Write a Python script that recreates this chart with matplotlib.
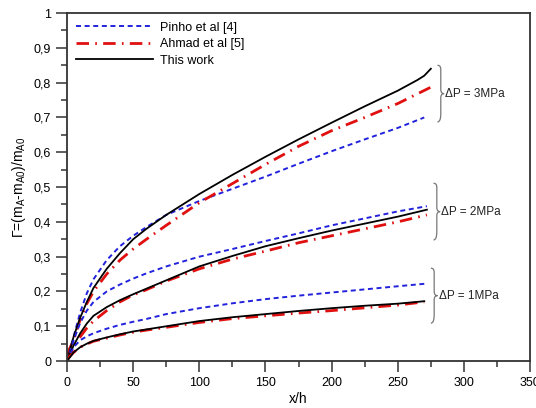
import matplotlib
matplotlib.use("Agg")
import matplotlib.pyplot as plt
from matplotlib.path import Path
from matplotlib.patches import PathPatch
from matplotlib.ticker import MultipleLocator, FuncFormatter

plt.rcParams['font.family'] = ['Liberation Sans', 'DejaVu Sans']
plt.rcParams['mathtext.fontset'] = 'custom'
plt.rcParams['mathtext.rm'] = 'Liberation Sans'
plt.rcParams['mathtext.it'] = 'Liberation Sans'
plt.rcParams['lines.scale_dashes'] = False

# ---- data ----
x_3 = [0, 2.5, 5, 10, 15, 20, 30, 40, 50, 60, 75, 100, 125, 150, 175, 200, 225, 250, 265, 270, 275]
work_3 = [0, 0.035, 0.07, 0.125, 0.17, 0.21, 0.265, 0.31, 0.35, 0.38, 0.42, 0.48, 0.535, 0.587,
          0.637, 0.685, 0.732, 0.777, 0.808, 0.82, 0.84]
x_p3 = [0, 5, 10, 15, 20, 30, 40, 50, 60, 75, 100, 125, 150, 175, 200, 225, 250, 270]
pinho_3 = [0, 0.07, 0.14, 0.195, 0.235, 0.29, 0.33, 0.36, 0.385, 0.42, 0.46, 0.495, 0.53,
           0.567, 0.603, 0.637, 0.67, 0.70]
x_a3 = [0, 5, 10, 15, 20, 30, 40, 50, 60, 75, 100, 125, 150, 175, 200, 225, 250, 275]
ahmad_3 = [0.02, 0.06, 0.12, 0.165, 0.20, 0.25, 0.29, 0.322, 0.35, 0.39, 0.455, 0.51, 0.565,
           0.617, 0.662, 0.70, 0.74, 0.787]

x_2 = [0, 5, 10, 15, 20, 30, 40, 50, 60, 75, 100, 125, 150, 175, 200, 225, 250, 272]
work_2 = [0, 0.045, 0.08, 0.108, 0.13, 0.155, 0.175, 0.192, 0.208, 0.232, 0.272, 0.302, 0.33,
          0.353, 0.375, 0.395, 0.415, 0.435]
pinho_2 = [0, 0.06, 0.11, 0.145, 0.17, 0.20, 0.22, 0.237, 0.252, 0.272, 0.30, 0.322, 0.345,
           0.367, 0.39, 0.41, 0.43, 0.445]
ahmad_2 = [0, 0.04, 0.07, 0.095, 0.115, 0.145, 0.17, 0.19, 0.205, 0.23, 0.265, 0.293, 0.316,
           0.34, 0.36, 0.38, 0.40, 0.42]

x_1 = [0, 5, 10, 15, 20, 30, 40, 50, 60, 75, 100, 125, 150, 175, 200, 225, 250, 270]
work_1 = [0, 0.025, 0.04, 0.05, 0.058, 0.068, 0.077, 0.085, 0.091, 0.10, 0.115, 0.126, 0.135,
          0.144, 0.152, 0.159, 0.165, 0.172]
pinho_1 = [0, 0.04, 0.06, 0.071, 0.08, 0.093, 0.104, 0.113, 0.121, 0.135, 0.152, 0.166, 0.178,
           0.188, 0.197, 0.206, 0.215, 0.222]
ahmad_1 = [0.005, 0.025, 0.04, 0.049, 0.057, 0.066, 0.075, 0.083, 0.089, 0.097, 0.111, 0.122,
           0.13, 0.138, 0.145, 0.153, 0.161, 0.17]

brace_labels = ['ΔP = 3MPa', 'ΔP = 2MPa', 'ΔP = 1MPa']
brace_x = [280, 277, 275]
brace_y = [(0.687, 0.85), (0.348, 0.511), (0.109, 0.267)]

# ---- plot ----
fig = plt.figure(figsize=(5.36, 4.08), dpi=100)
ax = fig.add_axes([0.125, 0.115, 0.864, 0.853])

blue = dict(color='#2222dd', lw=1.4, dashes=(3.6, 2.6))
red = dict(color='#e01010', lw=2.0, dashes=(9, 4.5, 1.2, 4.5))
black = dict(color='black', lw=1.3)

ax.plot(x_p3, pinho_3, label='Pinho et al [4]', **blue)
ax.plot(x_a3, ahmad_3, label='Ahmad et al [5]', **red)
ax.plot(x_3, work_3, label='This work', **black)
ax.plot(x_2, pinho_2, **blue)
ax.plot(x_2, ahmad_2, **red)
ax.plot(x_2, work_2, **black)
ax.plot(x_1, pinho_1, **blue)
ax.plot(x_1, ahmad_1, **red)
ax.plot(x_1, work_1, **black)

def brace(ax, x, y0, y1, w=2.5):
    ym = (y0 + y1) / 2
    h = 0.012
    verts = [
        (x, y1), (x + w, y1), (x + w, y1 - h), (x + w, y1 - 2 * h),
        (x + w, ym + h), (x + w, ym + h), (x + w, ym + h),
        (x + w, ym), (x + 2 * w, ym), (x + 2 * w, ym),
        (x + w, ym), (x + w, ym - h), (x + w, ym - h),
        (x + w, y0 + 2 * h), (x + w, y0 + 2 * h), (x + w, y0 + 2 * h),
        (x + w, y0), (x, y0),
    ]
    codes = [Path.MOVETO, Path.CURVE3, Path.CURVE3, Path.LINETO,
             Path.LINETO, Path.LINETO, Path.LINETO,
             Path.CURVE3, Path.CURVE3, Path.LINETO,
             Path.CURVE3, Path.CURVE3, Path.LINETO,
             Path.LINETO, Path.LINETO, Path.LINETO,
             Path.CURVE3, Path.CURVE3]
    ax.add_patch(PathPatch(Path(verts, codes), fill=False, ec='#777777', lw=0.9))

for lab, bx, (y0, y1) in zip(brace_labels, brace_x, brace_y):
    brace(ax, bx, y0, y1)
    ax.text(bx + 6, (y0 + y1) / 2, lab, fontsize=8.5, va='center', ha='left', color='#222222')

ax.set_xlim(0, 350)
ax.set_ylim(0, 1)
ax.xaxis.set_major_locator(MultipleLocator(50))
ax.xaxis.set_minor_locator(MultipleLocator(25))
ax.yaxis.set_major_locator(MultipleLocator(0.1))
ax.yaxis.set_minor_locator(MultipleLocator(0.05))
ax.yaxis.set_major_formatter(FuncFormatter(lambda v, p: ('%g' % round(v, 2)).replace('.', ',')))
ax.tick_params(which='major', direction='out', length=8, width=1.1, labelsize=9, top=False, right=False, color='#333333')
ax.tick_params(which='minor', direction='out', length=4.5, width=1.1, top=False, right=False, color='#333333')
for s in ax.spines.values():
    s.set_linewidth(1.3)
    s.set_color('#333333')

ax.set_xlabel('x/h', fontsize=10, labelpad=2)
ax.set_ylabel(r'$\Gamma$=(m$_\mathregular{A}$-m$_\mathregular{A0}$)/m$_\mathregular{A0}$', fontsize=10, labelpad=4)

leg = ax.legend(loc='upper left', frameon=False, fontsize=9, handlelength=6.2,
                handletextpad=0.5, borderaxespad=0.3, labelspacing=0.35)

fig.savefig('out.png', dpi=100)
